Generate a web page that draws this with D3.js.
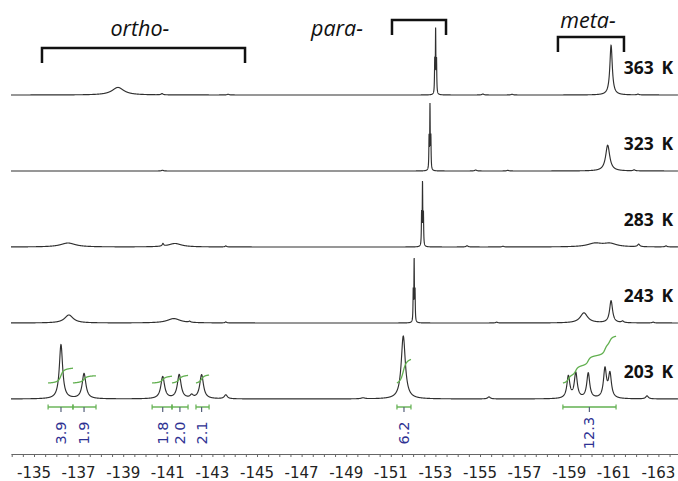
<!DOCTYPE html>
<html>
<head>
<meta charset="utf-8">
<script src="https://cdn.jsdelivr.net/npm/d3@7"></script>
<style>
body{margin:0;background:#fff}
svg{display:block}
</style>
</head>
<body>
<svg id="chart" width="678" height="481"></svg>
<script>
// temperatures, top to bottom
var temps = ["363 K", "323 K", "283 K", "243 K", "203 K"];

// peaks: [ppm, height (% of tallest), half width (ppm)]
var peaks363 = [[-138.765, 12, 0.32], [-140.742, 2, 0.05], [-143.702, 1.2, 0.05],
  [-152.970, 52, 0.012], [-153.010, 100, 0.012], [-153.051, 52, 0.012],
  [-155.129, 1.6, 0.05], [-156.437, 1.2, 0.05], [-160.878, 79, 0.066], [-162.084, 1.2, 0.05]];
var peaks323 = [[-140.762, 1.2, 0.05],
  [-152.716, 50, 0.012], [-152.757, 100, 0.012], [-152.797, 50, 0.012],
  [-154.805, 1.6, 0.05], [-156.244, 1.1, 0.05], [-160.726, 41, 0.11], [-161.912, 1.6, 0.05]];
var peaks283 = [[-136.524, 6.3, 0.4], [-140.782, 4, 0.04], [-141.320, 5.5, 0.35], [-143.601, 1.6, 0.04],
  [-152.381, 50, 0.012], [-152.422, 98, 0.012], [-152.463, 50, 0.012],
  [-154.419, 2, 0.05], [-156.031, 1.1, 0.05], [-160.158, 5.5, 0.4], [-160.827, 5, 0.35],
  [-162.115, 4, 0.06], [-163.342, 1.6, 0.05]];
var peaks243 = [[-136.565, 12.7, 0.23], [-141.269, 7, 0.35], [-141.979, 1.6, 0.05], [-143.601, 1.6, 0.04],
  [-152.006, 48, 0.012], [-152.047, 97, 0.012], [-152.087, 48, 0.012],
  [-155.748, 1.3, 0.05], [-159.661, 16, 0.2], [-160.878, 35, 0.08],
  [-161.395, 2.4, 0.06], [-162.764, 1.3, 0.05]];
var peaks203 = [[-136.210, 86, 0.09], [-137.244, 40, 0.1], [-140.772, 35, 0.1], [-141.512, 38, 0.1],
  [-142.070, 4.8, 0.08], [-142.516, 38, 0.1], [-143.601, 6.3, 0.08], [-149.755, 1.6, 0.1],
  [-151.560, 100, 0.11], [-155.403, 3.2, 0.07],
  [-158.962, 35, 0.08], [-159.296, 40, 0.08], [-159.854, 40, 0.08], [-160.604, 46, 0.08], [-160.827, 38, 0.08],
  [-162.490, 4.8, 0.07]];
var peakLists = [peaks363, peaks323, peaks283, peaks243, peaks203];

// integrals of the 203 K spectrum
var integralValues = [3.9, 1.9, 1.8, 2.0, 2.1, 6.2, 12.3];
var integralRanges = [[-135.632, -136.747], [-136.747, -137.781], [-140.296, -141.188], [-141.188, -141.908],
  [-142.263, -142.851], [-151.276, -151.905], [-158.718, -161.101]];
var integralCentres = [-136.210, -137.244, -140.772, -141.543, -142.516, -151.591, -159.905];

// signal groups
var groupNames = ["ortho-", "para-", "meta-"];
var groupRanges = [[-135.358, -144.463], [-151.053, -153.476], [-158.495, -161.456]];

// axis ticks
var tickLabels = d3.range(-135, -164, -2);
var minorTicks = d3.range(-134, -163.6, -0.5);

// ---- layout ----
var groupLayout = [{bracketY: 48, textPpm: -139.748, textY: 36},
                   {bracketY: 20, textPpm: -148.589, textY: 36},
                   {bracketY: 37, textPpm: -159.844, textY: 28}];

var svg = d3.select("#chart");

var x = d3.scaleLinear().domain([-135, -163]).range([34, 34 + 28 * 22.3]);
var xLeft = x.invert(11), xRight = x.invert(678);
var yOffset = d3.scalePoint().domain(temps).range([95, 399]);
var yInt = d3.scaleLinear().domain([0, 100]).range([0, 63]);
var integralPx = d3.scaleLinear().domain([0, 1]).range([0, 3.8]);

function intensity(peaks, ppm) {
  return d3.sum(peaks, function(p) { return p[1] / (1 + Math.pow((ppm - p[0]) / p[2], 2)); });
}

var grid = d3.range(xLeft, xRight, -0.004);

// spectra
temps.forEach(function(t, i) {
  var pts = grid.map(function(ppm) { return [ppm, intensity(peakLists[i], ppm)]; });
  var line = d3.line()
    .x(function(d) { return x(d[0]); })
    .y(function(d) { return yOffset(t) - yInt(d[1]); });
  svg.append("path")
    .attr("d", line(pts))
    .attr("fill", "none")
    .attr("stroke", "#303030")
    .attr("stroke-width", 1.15);

  svg.append("text")
    .attr("x", 673)
    .attr("y", yOffset(t) - 21)
    .attr("text-anchor", "end")
    .style("font-family", "'Open Sans', sans-serif")
    .style("font-weight", "bold")
    .style("font-size", "17.5px")
    .style("word-spacing", "3px")
    .attr("fill", "#111")
    .text(t);
});

// integrals on the 203 K trace
var green = "#62b050", navy = "#2e3192";
var base203 = yOffset("203 K");
integralValues.forEach(function(v, i) {
  var r = integralRanges[i];
  var pts = d3.range(r[0], r[1] - 0.001, -0.004);
  var vals = pts.map(function(p) { return intensity(peaks203, p); });
  var cum = d3.cumsum(vals);
  var total = cum[cum.length - 1];
  var y0 = base203 - 16;
  var line = d3.line()
    .x(function(d, j) { return x(pts[j]); })
    .y(function(d) { return y0 - integralPx(v) * d / total; });
  svg.append("path")
    .attr("d", line(Array.from(cum)))
    .attr("fill", "none")
    .attr("stroke", green)
    .attr("stroke-width", 1.3);

  var yb = 407;
  var g = svg.append("g");
  g.append("line").attr("x1", x(r[0])).attr("x2", x(r[1])).attr("y1", yb).attr("y2", yb)
    .attr("stroke", green).attr("stroke-width", 1.4);
  [r[0], r[1]].forEach(function(p) {
    g.append("line").attr("x1", x(p)).attr("x2", x(p)).attr("y1", yb - 2.5).attr("y2", yb + 2.5)
      .attr("stroke", green).attr("stroke-width", 1.2);
  });
  g.append("line").attr("x1", x(integralCentres[i])).attr("x2", x(integralCentres[i]))
    .attr("y1", yb).attr("y2", yb + 5)
    .attr("stroke", "#55607a").attr("stroke-width", 1.2);

  svg.append("text")
    .attr("transform", "translate(" + x(integralCentres[i]) + ",433) rotate(-90)")
    .attr("text-anchor", "middle")
    .attr("dominant-baseline", "central")
    .style("font-family", "'DejaVu Sans', sans-serif")
    .style("font-size", "14.5px")
    .attr("fill", navy)
    .text(v.toFixed(1));
});

// brackets and group names
groupNames.forEach(function(name, i) {
  var r = groupRanges[i], L = groupLayout[i];
  svg.append("path")
    .attr("d", "M" + x(r[0]) + "," + (L.bracketY + 15) + "V" + L.bracketY + "H" + x(r[1]) + "V" + (L.bracketY + 15))
    .attr("fill", "none")
    .attr("stroke", "#111")
    .attr("stroke-width", 2.5);
  svg.append("text")
    .attr("x", x(L.textPpm))
    .attr("y", L.textY)
    .attr("text-anchor", "middle")
    .style("font-family", "'Open Sans', sans-serif")
    .style("font-style", "italic")
    .style("font-size", "21.5px")
    .attr("fill", "#111")
    .text(name);
});

// x axis
var axisY = 454;
var xAxis = d3.axisBottom(x.copy().domain([xLeft, xRight]).range([11, 678]))
  .tickValues(minorTicks).tickSize(3).tickFormat("").tickSizeOuter(0);
var gA = svg.append("g").attr("transform", "translate(0," + axisY + ")").call(xAxis);
gA.selectAll("path,line").attr("stroke", "#666");
svg.append("g").selectAll("text")
  .data(tickLabels)
  .enter().append("text")
  .attr("x", function(d) { return x(d); })
  .attr("y", 478)
  .attr("text-anchor", "middle")
  .style("font-family", "'DejaVu Sans', sans-serif")
  .style("font-size", "15px")
  .attr("fill", "#222")
  .text(function(d) { return d; });
</script>
</body>
</html>
